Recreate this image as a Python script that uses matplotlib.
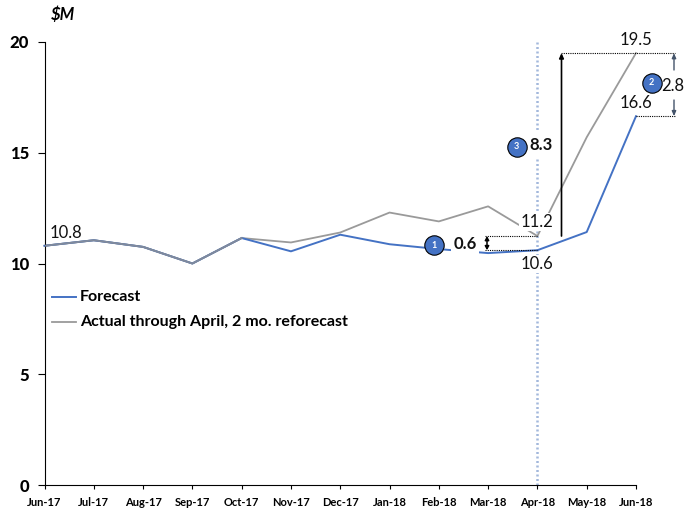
import matplotlib
matplotlib.use('Agg')
import matplotlib.pyplot as plt

plt.rcParams['font.family'] = ['Lato', 'DejaVu Sans']

months = ['Jun-17', 'Jul-17', 'Aug-17', 'Sep-17', 'Oct-17', 'Nov-17', 'Dec-17',
          'Jan-18', 'Feb-18', 'Mar-18', 'Apr-18', 'May-18', 'Jun-18']
forecast = [10.8, 11.05, 10.75, 10.0, 11.15, 10.55, 11.3, 10.87, 10.65, 10.47, 10.6, 11.42, 16.65]
actual = [10.8, 11.05, 10.75, 10.0, 11.15, 10.95, 11.4, 12.3, 11.9, 12.58, 11.24, 15.7, 19.5]
yticks = [0, 5, 10, 15, 20]

W, H = 697, 508
BLUE = '#4472C4'
GRAY = '#9A9A9A'
SLATE = '#44546A'

fig = plt.figure(figsize=(W / 100, H / 100), dpi=100)
ax = fig.add_axes([44.5 / W, 1 - 485 / H, (636 - 44.5) / W, (485 - 42) / H])
ax.set_xlim(0, 12)
ax.set_ylim(0, 20)

ax.plot(range(13), actual, color=GRAY, lw=1.3, clip_on=False, zorder=2)
ax.plot(range(13), forecast, color=BLUE, lw=1.4, clip_on=False, zorder=2)
# the first months overlap, gray sits on top in the original
ax.plot(range(5), actual[:5], color='#808A9C', lw=1.4, zorder=3)

ax.set_xticks(range(13))
ax.set_xticklabels(months, fontsize=8, fontweight='bold')
ax.set_yticks(yticks)
ax.set_yticklabels(yticks, fontsize=12, fontweight='black')
ax.tick_params(axis='x', length=3, width=0.8, direction='out', pad=6)
ax.tick_params(axis='y', length=5, width=0.8, direction='out', pad=6)
ax.spines['top'].set_visible(False)
ax.spines['right'].set_visible(False)


def mx(px):
    return (px - 44.5) / ((636 - 44.5) / 12)


def my(py):
    return (485 - py) / ((485 - 42) / 20)


# vertical April marker
ax.plot([10, 10], [0, 20], color='#A3B8DC', lw=1.8, ls=(0, (0.8, 1)), zorder=1, clip_on=False)

# dotted guide lines
dot = dict(color='black', lw=0.8, ls=(0, (1, 1)), clip_on=False, zorder=4)
ax.plot([mx(485), 10], [actual[10], actual[10]], **dot)
ax.plot([mx(485), 10], [forecast[10], forecast[10]], **dot)
ax.plot([mx(561), mx(675)], [actual[12], actual[12]], **dot)
ax.plot([12, mx(675)], [forecast[12], forecast[12]], **dot)

# arrows
ax.annotate('', xy=(mx(561.5), actual[12]), xytext=(mx(561.5), actual[10]),
            arrowprops=dict(arrowstyle='-|>,head_width=0.13,head_length=0.28', color='black',
                            lw=1.2, shrinkA=0, shrinkB=0), zorder=5)
ax.annotate('', xy=(mx(487), actual[10]), xytext=(mx(487), forecast[10]),
            arrowprops=dict(arrowstyle='<|-|>,head_width=0.12,head_length=0.22', color='black',
                            lw=1.1, shrinkA=0, shrinkB=0), zorder=5)
ax.annotate('', xy=(mx(674), actual[12]), xytext=(mx(674), my(70)),
            arrowprops=dict(arrowstyle='-|>,head_width=0.12,head_length=0.28', color=SLATE,
                            lw=1.0, shrinkA=0, shrinkB=0), zorder=5, annotation_clip=False)
ax.annotate('', xy=(mx(674), forecast[12]), xytext=(mx(674), my(100)),
            arrowprops=dict(arrowstyle='-|>,head_width=0.12,head_length=0.28', color=SLATE,
                            lw=1.0, shrinkA=0, shrinkB=0), zorder=5, annotation_clip=False)

# value labels
lab = dict(fontsize=12, ha='center', va='center', color='#111111', zorder=6, clip_on=False)
white = dict(facecolor='white', edgecolor='none', pad=1)
ax.text(mx(66), my(233), '10.8', **lab)
ax.text(mx(537), my(222), '11.2', bbox=white, **lab)
ax.text(mx(537), my(264), '10.6', bbox=white, **lab)
ax.text(12, my(40), '19.5', **lab)
ax.text(12, my(103), '16.6', **lab)
ax.text(mx(673), my(86), '2.8', **lab)
ax.text(mx(465), my(244), '0.6', fontweight='bold', bbox=dict(facecolor='white', edgecolor='none', pad=1.5), **lab)
ax.text(mx(540.5), my(145), '8.3', fontweight='bold', bbox=dict(facecolor='white', edgecolor='none', pad=4), **lab)

# numbered circles
for px_x, px_y, num in [(433.7, 245.3, '1'), (651.7, 83, '2'), (516.7, 147, '3')]:
    ax.scatter([mx(px_x)], [my(px_y)], s=195, color=BLUE, edgecolors='black', linewidths=0.8,
               zorder=7, clip_on=False)
    ax.text(mx(px_x), my(px_y), num, color='white', fontsize=6.5, fontweight='bold',
            ha='center', va='center', zorder=8)

# legend drawn by hand to hold the original spot
ax.plot([mx(52), mx(76)], [my(297), my(297)], color=BLUE, lw=1.4)
ax.plot([mx(52), mx(76)], [my(322), my(322)], color=GRAY, lw=1.3)
ax.text(mx(80), my(297), 'Forecast', fontsize=11.5, fontweight='bold', va='center')
ax.text(mx(80), my(322), 'Actual through April, 2 mo. reforecast', fontsize=11.5, fontweight='bold', va='center')

fig.text(63 / W, 1 - 15 / H, '$M', fontsize=12, fontweight='bold', style='italic', ha='center', va='center',
         parse_math=False)

fig.savefig('out.png', dpi=100)
